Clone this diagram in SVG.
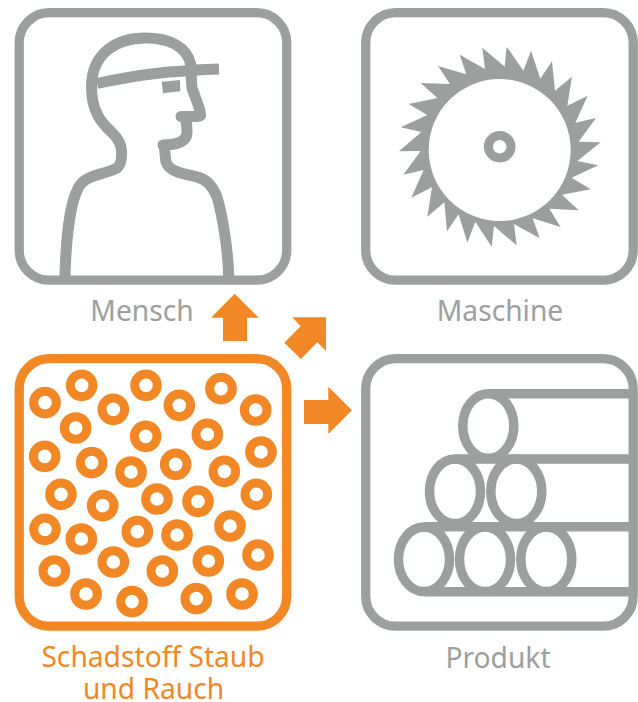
<svg xmlns="http://www.w3.org/2000/svg" width="638" height="702" viewBox="0 0 638 702">
<style>
.box{fill:none;stroke-width:9.3}
.g{stroke:#9d9f9e}
.o{stroke:#f28825}
.gf{fill:#9d9f9e}
.of{fill:#f28825}
.log{fill:none;stroke:#9d9f9e;stroke-width:9.5}
.lab{font-family:"Noto Sans","Open Sans",sans-serif;font-size:28.2px;text-anchor:middle}
</style>
<rect width="638" height="702" fill="#fff"/>
<g id="mensch">
<rect class="box g" x="19.2" y="12.7" width="267.5" height="267.5" rx="30"/>
<g fill="none" stroke="#9d9f9e" stroke-width="11" stroke-linejoin="round">
<path d="M65,277C65.700,247 69,207 77.300,190C83,174 105,175 117,168C123,163 123,147 118,140C112,129 91.500,122 91.500,87C91.500,53 117,38 145,38C170,38 187,47 191,65C191.500,73 191,80 192,88C195,97 200,108 200.500,114C201,116 199,116.500 196,116.500H181C186.500,116.500 187,125 187,133C187,141 178,145 163,145C165,147 165,155 166,162C169,172 185,174 197,177C207,179 213,187 217,197C223,217 228.300,253 228.700,277"/>
<path d="M97,83.500C140,74 170,71 219,69"/>
</g>
<polygon class="gf" points="161.700,81.700 180,80 180.300,91.300 163,93.300"/>
</g>
<g id="maschine">
<polygon class="gf" transform="translate(350 0) scale(.33333)" points="397,143 464,200 470,140 520,212 543,152 571,236 606,184 615,272 666,230 652,317 713,287 676,368 738,354 686,425 752,427 682,483 745,496 665,533 722,568 636,584 686,631 598,626 632,681 548,655 569,715 492,672 500,736 432,678 425,740 376,665 352,728 326,643 291,694 283,607 232,650 246,562 184,593 221,510 160,524 212,453 147,454 214,396 152,382 232,345 176,312 262,294 212,249 300,252 264,198 349,223 329,164 405,207"/>
<circle cx="499.700" cy="150" r="71" fill="#fff"/>
<circle cx="499.700" cy="146.700" r="11.300" fill="none" stroke="#9d9f9e" stroke-width="9"/>
<rect class="box g" x="365.700" y="12.700" width="267.500" height="267.500" rx="30"/>
</g>
<g id="produkt">
<rect class="box g" x="365.700" y="358.700" width="267.500" height="267.500" rx="30"/>
<path class="log" d="M488.300,393.700H630M455,459H630M424,526.700H630M424,591.700H630"/>
<g>
<ellipse class="log" cx="488.300" cy="426" rx="25.500" ry="32.300"/>
<ellipse class="log" cx="455" cy="491.300" rx="25.500" ry="32.300"/>
<ellipse class="log" cx="516.300" cy="491.300" rx="25.500" ry="32.300"/>
<ellipse class="log" cx="424" cy="559.300" rx="25.500" ry="32.300"/>
<ellipse class="log" cx="485" cy="559.300" rx="25.500" ry="32.300"/>
<ellipse class="log" cx="546.300" cy="559.300" rx="25.500" ry="32.300"/>
</g>
</g>
<g id="schadstoff">
<rect class="box o" x="19.200" y="358.700" width="267.500" height="267.500" rx="30"/>
<g transform="translate(0 350) scale(.33333)" style="stroke-width:27;fill:none;stroke:#f28825">
<circle cx="135" cy="158" r="34"/><circle cx="245" cy="106" r="34"/><circle cx="340" cy="178" r="34"/><circle cx="438" cy="106" r="34"/><circle cx="538" cy="166" r="34"/><circle cx="663" cy="116" r="34"/><circle cx="767" cy="180" r="34"/><circle cx="227" cy="234" r="34"/><circle cx="437" cy="259" r="34"/><circle cx="622" cy="253" r="34"/><circle cx="134" cy="319" r="34"/><circle cx="275" cy="338" r="34"/><circle cx="393" cy="366" r="34"/><circle cx="527" cy="343" r="34"/><circle cx="673" cy="364" r="34"/><circle cx="783" cy="306" r="34"/><circle cx="183" cy="433" r="34"/><circle cx="308" cy="467" r="34"/><circle cx="471" cy="447" r="34"/><circle cx="594" cy="454" r="34"/><circle cx="769" cy="433" r="34"/><circle cx="135" cy="538" r="34"/><circle cx="244" cy="567" r="34"/><circle cx="412" cy="545" r="34"/><circle cx="531" cy="555" r="34"/><circle cx="690" cy="528" r="34"/><circle cx="163" cy="663" r="34"/><circle cx="340" cy="636" r="34"/><circle cx="487" cy="663" r="34"/><circle cx="625" cy="633" r="34"/><circle cx="774" cy="615" r="34"/><circle cx="258" cy="732" r="34"/><circle cx="396" cy="755" r="34"/><circle cx="589" cy="746" r="34"/><circle cx="726" cy="732" r="34"/>
</g>
</g>
<g id="connectors">
<polygon class="of" points="234.700,293.700 258.700,317.700 247,317.700 247,341 223,341 223,317.700 211,317.700"/>
<polygon class="of" points="326,317.300 326,351 317.300,342.300 301,359 284.300,342.700 300.700,326.300 292.300,317.300"/>
<polygon class="of" points="352,410.300 328.300,434 328.300,424 304,424 304,400 328.300,400 328.300,386.700"/>
</g>
<g id="labels">
<text class="lab" x="142" y="320.500" fill="#9d9f9e">Mensch</text>
<text class="lab" x="500" y="320.500" fill="#9d9f9e">Maschine</text>
<text class="lab" x="498" y="668" fill="#9d9f9e">Produkt</text>
<text class="lab" x="153" y="666.700" fill="#f28825">Schadstoff Staub</text>
<text class="lab" x="153.500" y="699" fill="#f28825">und Rauch</text>
</g>
</svg>
